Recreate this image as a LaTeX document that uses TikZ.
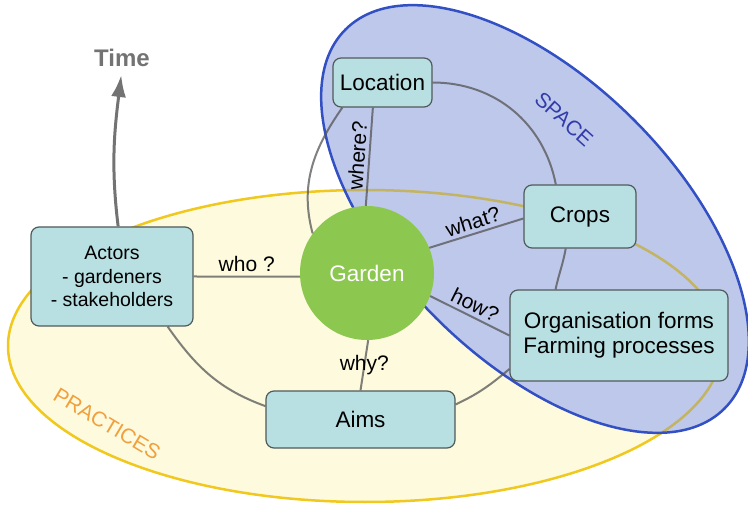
\documentclass[tikz,border=0pt]{standalone}
\usepackage{fontspec}
\setmainfont{Liberation Sans}
\usetikzlibrary{arrows.meta}

\definecolor{practfill}{RGB}{253,250,222}
\definecolor{practline}{RGB}{240,200,30}
\definecolor{practshade}{RGB}{195,180,100}
\definecolor{practtext}{RGB}{240,160,60}
\definecolor{spacefill}{RGB}{190,200,235}
\definecolor{spaceline}{RGB}{50,80,195}
\definecolor{spacetext}{RGB}{50,60,170}
\definecolor{boxfill}{RGB}{184,224,226}
\definecolor{boxline}{RGB}{80,90,90}
\definecolor{gardengreen}{RGB}{140,200,80}
\definecolor{linkgray}{RGB}{85,85,85}
\definecolor{timegray}{RGB}{115,115,115}

\tikzset{
	box/.style={draw=boxline, fill=boxfill, line width=1.2pt, rounded corners=8pt, align=center, inner sep=0pt},
	link/.style={draw=linkgray, draw opacity=0.75, line width=2pt}
}

\begin{document}
\begin{tikzpicture}[x=1pt, y=1pt, font=\fontsize{22.5}{25}\selectfont]
	\clip (0,0) rectangle (748,507);
	%practices and space
	\draw[fill=practfill, draw=practline, line width=2.5pt] (365,161) ellipse [x radius=357, y radius=156];
	\fill[spacefill, rotate around={-45:(535,288)}] (535,288) ellipse [x radius=268, y radius=140];
	\begin{scope}
		\clip[rotate around={-45:(535,288)}] (535,288) ellipse [x radius=268, y radius=140];
		\draw[practshade, line width=2.5pt] (365,161) ellipse [x radius=357, y radius=156];
	\end{scope}
	\draw[spaceline, line width=2.5pt, rotate around={-45:(535,288)}] (535,288) ellipse [x radius=268, y radius=140];
	\node (practices) at (107,83) [rotate=-31, text=practtext, font=\fontsize{21}{24}\selectfont]{PRACTICES};
	\node (space) at (564,388) [rotate=-42, text=spacetext, font=\fontsize{21}{24}\selectfont]{SPACE};

	%garden and boxes
	\node (garden) at (367,234) [circle, fill=gardengreen, minimum size=134pt, inner sep=0pt, text=white]{Garden};
	\node (loc) at (382.5,424.5) [box, minimum width=99pt, minimum height=49pt]{Location};
	\node (crops) at (580,290.5) [box, minimum width=112pt, minimum height=63pt]{Crops};
	\node (org) at (619,171.5) [box, minimum width=218pt, minimum height=91pt]{Organisation forms\\Farming processes};
	\node (aims) at (360.5,87.5) [box, minimum width=189pt, minimum height=57pt]{Aims};
	\node (actors) at (112,230.5) [box, minimum width=162pt, minimum height=99pt, font=\fontsize{19.5}{23.5}\selectfont]{Actors\\- gardeners\\- stakeholders};

	%time
	\node (time) at (122,449) [text=timegray, font=\fontsize{24}{28}\selectfont\bfseries, inner sep=2pt]{Time};
	\draw[timegray, line width=3pt, shorten >=6pt, -{Latex[length=22pt, width=15pt]}] (actors.83) to[out=97, in=-97] (time.south);

	%ring round the garden
	\foreach \s/\t/\o/\i in {loc.east/crops.127/0/101, crops.-114/org.144/-100/78, org.197/aims.9/-140/25, actors.-42/aims.172/-55/160, loc.-148/garden.144/-125/105}{
		\draw[link] (\s) to[out=\o, in=\i] (\t);
	}

	%questions
	\draw[link] (garden.91) -- (loc.-111) node[midway, above, sloped, font=\fontsize{21}{24}\selectfont]{where?};
	\draw[link] (garden.22) -- (crops.182) node[midway, above, sloped, font=\fontsize{21}{24}\selectfont]{what?};
	\draw[link] (garden.-20) -- (org.west) node[midway, above, sloped, font=\fontsize{21}{24}\selectfont]{how?};
	\draw[link] (garden.183) -- (actors.east) node[midway, above, font=\fontsize{21}{24}\selectfont]{who ?};
	\draw[link] (garden.-89) -- (aims.north) node[midway, font=\fontsize{21}{24}\selectfont]{why?};
\end{tikzpicture}
\end{document}
